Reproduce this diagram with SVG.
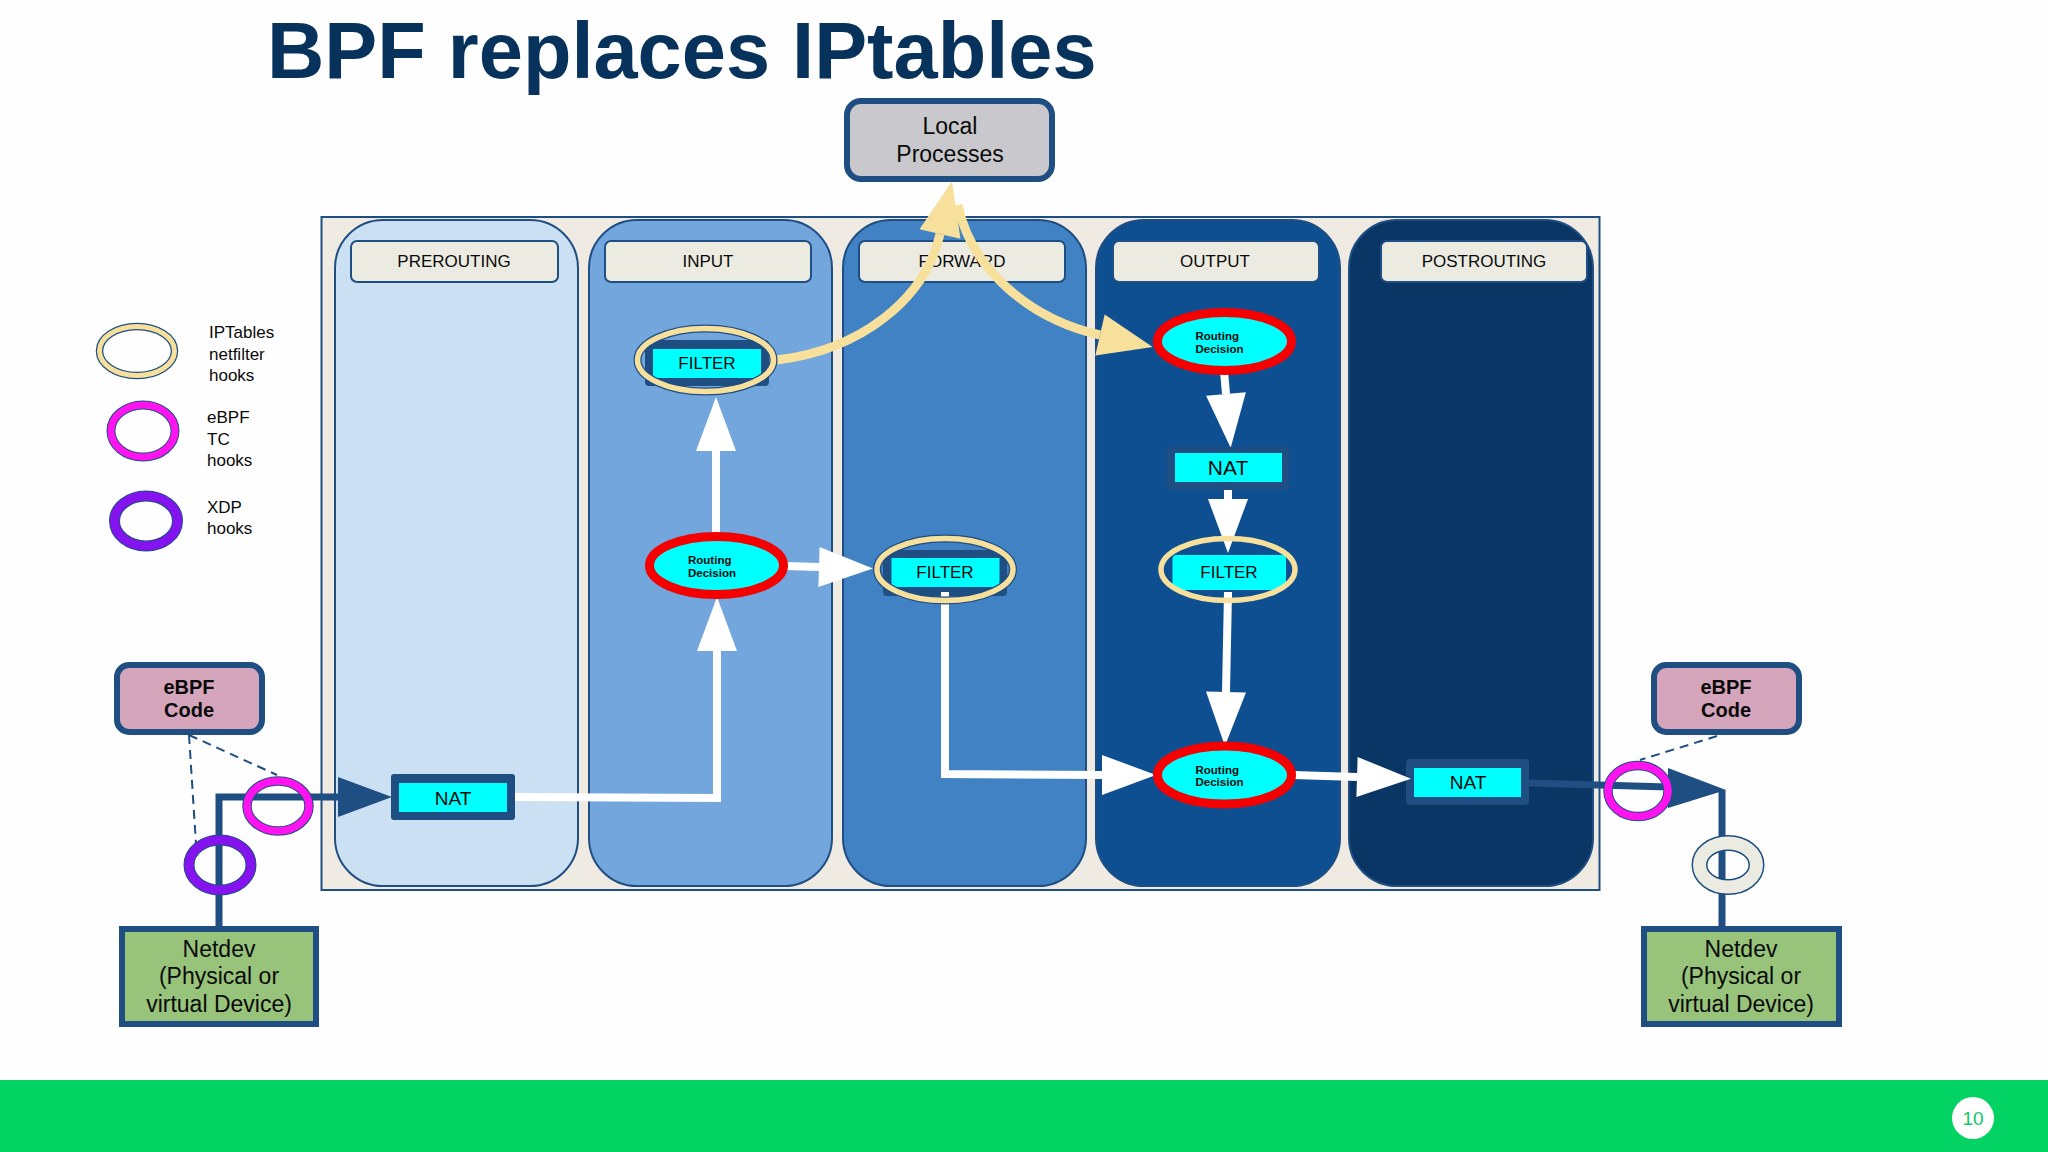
<svg xmlns="http://www.w3.org/2000/svg" width="2048" height="1152" viewBox="0 0 2048 1152">
<style>
text{font-family:"Liberation Sans",Arial,sans-serif;fill:#0a0a0a}
.c{text-anchor:middle}
.hd{font-size:17px}
.lane{stroke:#1f4e82;stroke-width:2}
.head{fill:#ecebe2;stroke:#1f4e82;stroke-width:2}
.box{stroke:#1f4e82;stroke-width:6}
.dark{fill:#1f4e82}
.cyan{fill:#00ffff}
.nat{font-size:19px}
.fil{font-size:17px}
.rd{font-size:11.5px;font-weight:bold}
.big{font-size:23px}
.code{font-size:20px;font-weight:bold}
.leg{font-size:17px}
.o{fill:none;stroke:#1f4e82}
.pink{fill:none;stroke:#ff14f0}
.purple{fill:none;stroke:#8413f0}
.cream{fill:none;stroke:#f7e09c}
.grey{fill:none;stroke:#ecebe2}
.red{fill:#00ffff;stroke:#f50000;stroke-width:9}
.w{fill:none;stroke:#fff;stroke-width:8;marker-end:url(#aw)}
.wp{fill:none;stroke:#fff;stroke-width:8}
.b{fill:none;stroke:#1f4e82;stroke-width:7}
.y{fill:none;stroke:#f7e09c;stroke-width:9;marker-end:url(#ay)}
.d{fill:none;stroke:#1f4e82;stroke-width:2;stroke-dasharray:9 6}
</style>
<defs>
<marker id="aw" markerUnits="userSpaceOnUse" markerWidth="54" markerHeight="40" refX="0" refY="20" orient="auto" overflow="visible"><path d="M0 0L54 20L0 40Z" fill="#fff"/></marker>
<marker id="ay" markerUnits="userSpaceOnUse" markerWidth="54" markerHeight="42" refX="0" refY="21" orient="auto" overflow="visible"><path d="M0 0L54 21L0 42Z" fill="#f7e09c"/></marker>
<marker id="ab" markerUnits="userSpaceOnUse" markerWidth="54" markerHeight="40" refX="0" refY="20" orient="auto" overflow="visible"><path d="M0 0L54 20L0 40Z" fill="#1f4e82"/></marker>
</defs>
<rect width="2048" height="1152" fill="#fefefe"/>
<text id="title" x="267" y="78" style="font-size:79.400px;font-weight:bold;fill:#07325c">BPF replaces IPtables</text>
<rect id="footer" y="1080" width="2048" height="72" fill="#03d362"/>
<g id="page"><circle cx="1973" cy="1118" r="21" fill="#fff"/><text class="c" x="1973" y="1125" style="font-size:19px;fill:#10c864">10</text></g>

<g id="frame">
<rect x="321.500" y="217" width="1278" height="673" fill="#efebe3" stroke="#1f4e82" stroke-width="2"/>
<g id="lane-prerouting"><rect class="lane" x="335" y="220" width="243" height="666" rx="48" fill="#cce0f4"/><rect class="head" x="351" y="241" width="207" height="41" rx="6"/><text class="c hd" x="454" y="267">PREROUTING</text></g>
<g id="lane-input"><rect class="lane" x="589" y="220" width="243" height="666" rx="48" fill="#72a6dc"/><rect class="head" x="605" y="241" width="206" height="41" rx="6"/><text class="c hd" x="708" y="267">INPUT</text></g>
<g id="lane-forward"><rect class="lane" x="843" y="220" width="243" height="666" rx="48" fill="#4082c4"/><rect class="head" x="859" y="241" width="206" height="41" rx="6"/><text class="c hd" x="962" y="267">FORWARD</text></g>
<g id="lane-output"><rect class="lane" x="1096" y="220" width="244" height="666" rx="48" fill="#0e4f92"/><rect class="head" x="1113" y="241" width="206" height="41" rx="6"/><text class="c hd" x="1215" y="267">OUTPUT</text></g>
<g id="lane-postrouting"><rect class="lane" x="1349" y="220" width="244" height="666" rx="48" fill="#0a3665"/><rect class="head" x="1381" y="241" width="206" height="41" rx="6"/><text class="c hd" x="1484" y="267">POSTROUTING</text></g>
</g>

<g id="nat-postrouting"><rect class="dark" x="1406" y="759" width="123" height="46" rx="4"/><rect class="cyan" x="1414" y="768" width="107" height="29"/><text class="c nat" x="1468" y="789">NAT</text></g>

<g id="connectors">
<path class="b" d="M219 926V797H338" marker-end="url(#ab)"/>
<path class="b" d="M1529 783L1668 787"/>
<path d="M1668 768L1726 790L1668 808Z" class="dark"/>
<path class="b" d="M1722 790V926"/>
<path class="d" d="M189 735L196 844"/>
<path class="d" d="M189 735L277 775"/>
<path class="d" d="M1717 736L1640 760"/>
<path class="wp" d="M515 797L717 798V651"/>
<path class="w" d="M717 655V651"/>
<path class="w" d="M716 537V451"/>
<path class="w" d="M785 566L819 567"/>
<path class="wp" d="M945 592V774L1102 775"/>
<path class="w" d="M1095 775H1102"/>
<path class="w" d="M1224 371L1226 394"/>
<path class="w" d="M1228 487V499"/>
<path class="w" d="M1228 592L1226 692"/>
<path class="w" d="M1293 775L1357 777"/>
<path class="y" d="M777 360C860 350 925 300 940 234"/>
<path class="y" d="M958 205C970 265 1025 318 1100 335"/>
</g>

<g id="local-processes"><rect class="box" x="847" y="101" width="205" height="78" rx="14" fill="#c9c9cd"/><text class="c" style="font-size:23px" x="950" y="134">Local</text><text class="c" style="font-size:23px" x="950" y="162">Processes</text></g>

<g id="ebpf-left"><rect class="box" x="117" y="665" width="145" height="67" rx="12" fill="#d4a5bb"/><text class="c code" x="189" y="694">eBPF</text><text class="c code" x="189" y="717">Code</text></g>
<g id="ebpf-right"><rect class="box" x="1654" y="665" width="145" height="67" rx="12" fill="#d4a5bb"/><text class="c code" x="1726" y="694">eBPF</text><text class="c code" x="1726" y="717">Code</text></g>

<g id="netdev-left"><rect class="box" x="122" y="929" width="194" height="95" fill="#97c37b"/><text class="c big" x="219" y="957">Netdev</text><text class="c big" x="219" y="984">(Physical or</text><text class="c big" x="219" y="1012">virtual Device)</text></g>
<g id="netdev-right"><rect class="box" x="1644" y="929" width="195" height="95" fill="#97c37b"/><text class="c big" x="1741" y="957">Netdev</text><text class="c big" x="1741" y="984">(Physical or</text><text class="c big" x="1741" y="1012">virtual Device)</text></g>

<g id="nat-prerouting"><rect class="dark" x="391" y="774" width="124" height="46" rx="3"/><rect class="cyan" x="399" y="783" width="108" height="29"/><text class="c nat" x="453" y="805">NAT</text></g>
<g id="nat-output"><rect class="dark" x="1167" y="447" width="122" height="43" rx="3"/><rect class="cyan" x="1175" y="453" width="107" height="29"/><text class="c" style="font-size:21px" x="1228" y="475">NAT</text></g>

<g id="filter-input"><rect class="dark" x="645" y="340" width="124" height="46" rx="4"/><rect class="cyan" x="653" y="349" width="108" height="29"/><text class="c fil" x="707" y="369">FILTER</text><ellipse class="o" stroke-width="8" cx="705.500" cy="360" rx="68" ry="31.500"/><ellipse class="cream" stroke-width="5.500" cx="705.500" cy="360" rx="68" ry="31.500"/></g>
<g id="filter-forward"><rect class="dark" x="883" y="550" width="124" height="46" rx="4"/><rect class="cyan" x="891.500" y="558" width="108" height="29"/><text class="c fil" x="945" y="578">FILTER</text><rect x="941" y="592" width="8" height="5" fill="#fff"/><ellipse class="o" stroke-width="8" cx="945" cy="569.500" rx="68" ry="31"/><ellipse class="cream" stroke-width="5.500" cx="945" cy="569.500" rx="68" ry="31"/></g>
<g id="filter-output"><rect class="cyan" x="1172.500" y="555" width="113.500" height="35" rx="4"/><text class="c fil" x="1229" y="578">FILTER</text><rect x="1224" y="592" width="8" height="5" fill="#fff"/><ellipse class="cream" stroke-width="5.500" cx="1228" cy="569.500" rx="67" ry="31"/></g>

<g id="routing-input"><ellipse class="red" cx="716.500" cy="565.500" rx="67" ry="29"/><text class="rd" x="688" y="564">Routing</text><text class="rd" x="688" y="577">Decision</text></g>
<g id="routing-output-top"><ellipse class="red" cx="1224.500" cy="341.500" rx="67" ry="29"/><text class="rd" x="1195.500" y="340">Routing</text><text class="rd" x="1195.500" y="353">Decision</text></g>
<g id="routing-output-bottom"><ellipse class="red" cx="1224.500" cy="775" rx="67" ry="29"/><text class="rd" x="1195.500" y="774">Routing</text><text class="rd" x="1195.500" y="786">Decision</text></g>

<g id="hook-tc-left"><ellipse class="o" stroke-width="9.500" cx="278" cy="806" rx="31" ry="25"/><ellipse class="pink" stroke-width="7.500" cx="278" cy="806" rx="31" ry="25"/></g>
<g id="hook-xdp-left"><ellipse class="o" stroke-width="11" cx="220" cy="865" rx="31" ry="25"/><ellipse class="purple" stroke-width="9" cx="220" cy="865" rx="31" ry="25"/></g>
<g id="hook-tc-right"><ellipse class="o" stroke-width="9.500" cx="1638" cy="791" rx="30" ry="25.500"/><ellipse class="pink" stroke-width="7.500" cx="1638" cy="791" rx="30" ry="25.500"/></g>
<g id="hook-netfilter-right"><ellipse class="o" stroke-width="16" cx="1728" cy="865" rx="28.500" ry="22"/><ellipse class="grey" stroke-width="13" cx="1728" cy="865" rx="28.500" ry="22"/></g>

<g id="legend">
<ellipse class="o" stroke-width="7.500" cx="137" cy="351" rx="37.500" ry="24.500"/><ellipse class="cream" stroke-width="5" cx="137" cy="351" rx="37.500" ry="24.500"/>
<text class="leg" x="209" y="338">IPTables</text><text class="leg" x="209" y="360">netfilter</text><text class="leg" x="209" y="381">hooks</text>
<ellipse class="o" stroke-width="9" cx="143" cy="431" rx="32" ry="26"/><ellipse class="pink" stroke-width="7" cx="143" cy="431" rx="32" ry="26"/>
<text class="leg" x="207" y="423">eBPF</text><text class="leg" x="207" y="445">TC</text><text class="leg" x="207" y="466">hooks</text>
<ellipse class="o" stroke-width="11" cx="146" cy="521" rx="31.500" ry="25"/><ellipse class="purple" stroke-width="9" cx="146" cy="521" rx="31.500" ry="25"/>
<text class="leg" x="207" y="513">XDP</text><text class="leg" x="207" y="534">hooks</text>
</g>
</svg>
